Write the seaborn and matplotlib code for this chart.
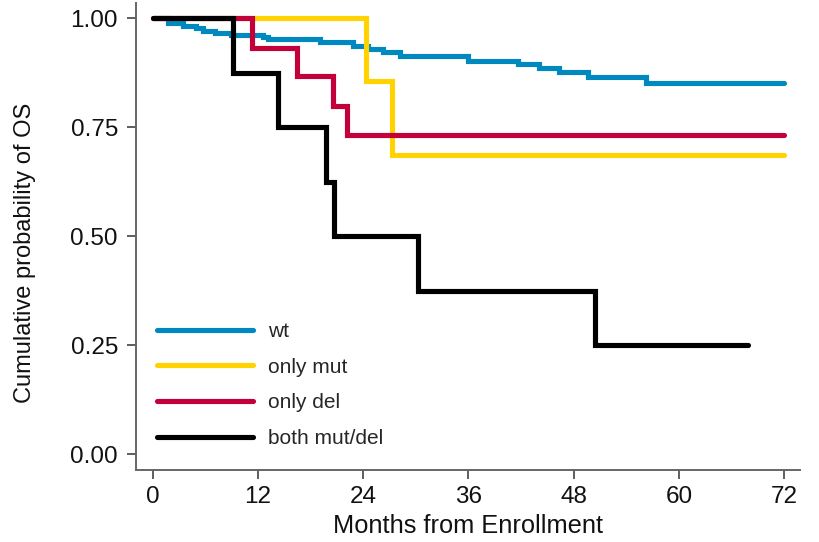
import matplotlib
matplotlib.use("Agg")
import matplotlib.pyplot as plt
import seaborn as sns

# Kaplan-Meier overall survival estimates by group (time in months, survival after each event)
wt_time = [0, 1.8, 3.5, 5.0, 5.7, 7.1, 8.9, 12.6, 13.2, 19.1, 22.9, 24.6, 26.3, 28.2,
           36.0, 41.6, 44.0, 46.3, 49.6, 56.2, 72.0]
wt_surv = [1.0, 0.989, 0.983, 0.977, 0.972, 0.967, 0.962, 0.958, 0.953, 0.946, 0.936,
           0.929, 0.923, 0.913, 0.903, 0.896, 0.886, 0.878, 0.865, 0.852, 0.852]

mut_time = [0, 24.3, 27.3, 72.0]
mut_surv = [1.0, 0.857, 0.686, 0.686]

del_time = [0, 11.3, 16.5, 20.6, 22.2, 72.0]
del_surv = [1.0, 0.933, 0.867, 0.800, 0.733, 0.733]

both_time = [0, 9.2, 14.3, 19.8, 20.7, 30.2, 50.4, 67.9]
both_surv = [1.0, 0.875, 0.750, 0.625, 0.500, 0.375, 0.250, 0.250]

group_labels = ["wt", "only mut", "only del", "both mut/del"]
group_colors = ["#0089BE", "#FFD200", "#C4003A", "#000000"]

x_ticks = [0, 12, 24, 36, 48, 60, 72]
y_ticks = [0.00, 0.25, 0.50, 0.75, 1.00]
y_tick_labels = ["0.00", "0.25", "0.50", "0.75", "1.00"]

sns.set_style("ticks")
plt.rcParams["font.family"] = ["Liberation Sans", "DejaVu Sans"]

fig = plt.figure(figsize=(8.19, 5.42), dpi=100)
ax = fig.add_axes([136 / 819, 1 - 470 / 542, 664 / 819, 467.3 / 542])

series = [(wt_time, wt_surv), (mut_time, mut_surv), (del_time, del_surv), (both_time, both_surv)]
for (t, s), lab, col in zip(series, group_labels, group_colors):
    sns.lineplot(x=t, y=s, ax=ax, color=col, label=lab, linewidth=3.7,
                 drawstyle="steps-post", estimator=None, sort=False,
                 solid_joinstyle="miter")

ax.set_xlim(-1.89, 73.8)
ax.set_ylim(-0.036, 1.036)
ax.set_xticks(x_ticks)
ax.set_xticklabels([str(v) for v in x_ticks])
ax.set_yticks(y_ticks)
ax.set_yticklabels(y_tick_labels)

for side in ["top", "right"]:
    ax.spines[side].set_visible(False)
for side in ["left", "bottom"]:
    ax.spines[side].set_color("#666666")
    ax.spines[side].set_linewidth(1.4)

ax.tick_params(axis="both", direction="out", length=6.5, width=1.1, color="#333333",
               labelsize=17.5, labelcolor="#111111", pad=5)
ax.tick_params(axis="y", pad=6.5)

ax.set_xlabel("Months from Enrollment", fontsize=18.3, color="#111111", labelpad=4.5)
ax.set_ylabel("")
fig.text(25 / 819, 1 - 253 / 542, "Cumulative probability of OS", rotation=90,
         ha="center", va="center", fontsize=17, color="#111111")

ax.legend(loc="upper left", bbox_to_anchor=((157 - 136) / 664, (470 - 322) / 467.3),
          frameon=False, fontsize=15, handlelength=4.6, handletextpad=0.72,
          labelspacing=0.8, borderpad=0, borderaxespad=0)

fig.savefig("out.png", dpi=100)
